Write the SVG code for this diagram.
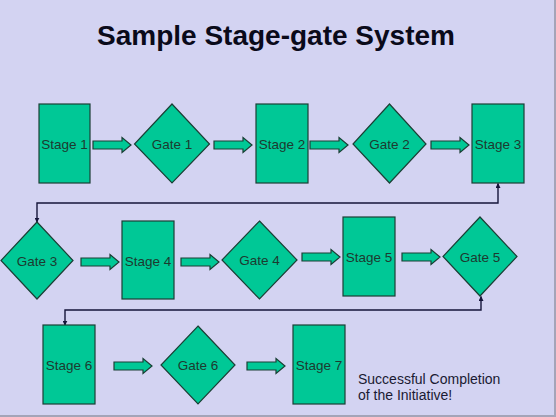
<svg xmlns="http://www.w3.org/2000/svg" width="556" height="417" viewBox="0 0 556 417">
<style>
.bg{fill:#d3d3f2}
.node{fill:#00c896;stroke:#1b3f35;stroke-width:1.2}
.lbl{font-family:"Liberation Sans",Arial,sans-serif;font-size:13.5px;fill:#1d3a30;text-anchor:middle}
.title{font-family:"Liberation Sans",Arial,sans-serif;font-size:28px;font-weight:bold;fill:#0a0a1a;text-anchor:middle}
.note{font-family:"Liberation Sans",Arial,sans-serif;font-size:14px;fill:#1a1a33}
.blk{fill:#00c896;stroke:#1b3f35;stroke-width:1.2}
.conn{fill:none;stroke:#15153a;stroke-width:1.4}
</style>
<defs>
<path id="barrow" d="M0,-4 H29 V-7.5 L38,0 L29,7.5 V4 H0 Z"/>
<marker id="ah" viewBox="0 0 8 8" refX="7" refY="4" markerWidth="5" markerHeight="5" orient="auto-start-reverse" markerUnits="userSpaceOnUse">
<path d="M0,0 L8,4 L0,8 Z" fill="#15153a"/>
</marker>
</defs>
<rect class="bg" x="0" y="0" width="556" height="417"/>
<rect x="554" y="0" width="2" height="417" fill="#a4a4b8"/>
<rect x="0" y="415" width="556" height="2" fill="#a4a4b8"/>
<text class="title" x="276" y="45">Sample Stage-gate System</text>

<g id="connectors">
<g class="blk">
<use href="#barrow" x="93" y="145"/>
<use href="#barrow" x="214" y="145"/>
<use href="#barrow" x="310" y="145"/>
<use href="#barrow" x="431" y="145"/>
<use href="#barrow" x="81" y="262"/>
<use href="#barrow" x="181" y="262"/>
<use href="#barrow" x="302" y="257"/>
<use href="#barrow" x="402" y="257"/>
<use href="#barrow" x="114" y="366"/>
<use href="#barrow" x="247" y="366"/>
</g>
<path class="conn" d="M498,183.5 V203 H37 V222" marker-start="url(#ah)" marker-end="url(#ah)"/>
<path class="conn" d="M481,296.5 V310 H65 V325" marker-start="url(#ah)" marker-end="url(#ah)"/>
</g>

<g id="stage1"><rect class="node" x="39" y="104" width="51" height="79"/><text class="lbl" x="64.5" y="149">Stage 1</text></g>
<g id="gate1"><polygon class="node" points="172,104 209.5,144 172,183 134.5,144"/><text class="lbl" x="172" y="149">Gate 1</text></g>
<g id="stage2"><rect class="node" x="256" y="104" width="52" height="79"/><text class="lbl" x="282" y="149">Stage 2</text></g>
<g id="gate2"><polygon class="node" points="389.5,104 426,144 389.5,183 353,144"/><text class="lbl" x="389.5" y="149">Gate 2</text></g>
<g id="stage3"><rect class="node" x="472" y="104" width="52" height="79"/><text class="lbl" x="498" y="149">Stage 3</text></g>

<g id="gate3"><polygon class="node" points="37,222 73,260.5 37,299 1,260.5"/><text class="lbl" x="37" y="265.5">Gate 3</text></g>
<g id="stage4"><rect class="node" x="122" y="221" width="52" height="78"/><text class="lbl" x="148" y="266">Stage 4</text></g>
<g id="gate4"><polygon class="node" points="259.5,221 297,260 259.5,299 222,260"/><text class="lbl" x="259.5" y="265">Gate 4</text></g>
<g id="stage5"><rect class="node" x="343" y="217" width="52" height="79"/><text class="lbl" x="369" y="262">Stage 5</text></g>
<g id="gate5"><polygon class="node" points="480,217 517,256.5 480,296 443,256.5"/><text class="lbl" x="480" y="261.5">Gate 5</text></g>

<g id="stage6"><rect class="node" x="43" y="325" width="52" height="79"/><text class="lbl" x="69" y="370">Stage 6</text></g>
<g id="gate6"><polygon class="node" points="198,326 235,365 198,404 161,365"/><text class="lbl" x="198" y="370">Gate 6</text></g>
<g id="stage7"><rect class="node" x="293" y="325" width="52" height="79"/><text class="lbl" x="319" y="370">Stage 7</text></g>

<g id="note"><text class="note" x="358" y="384">Successful Completion</text><text class="note" x="358" y="400">of the Initiative!</text></g>
</svg>
